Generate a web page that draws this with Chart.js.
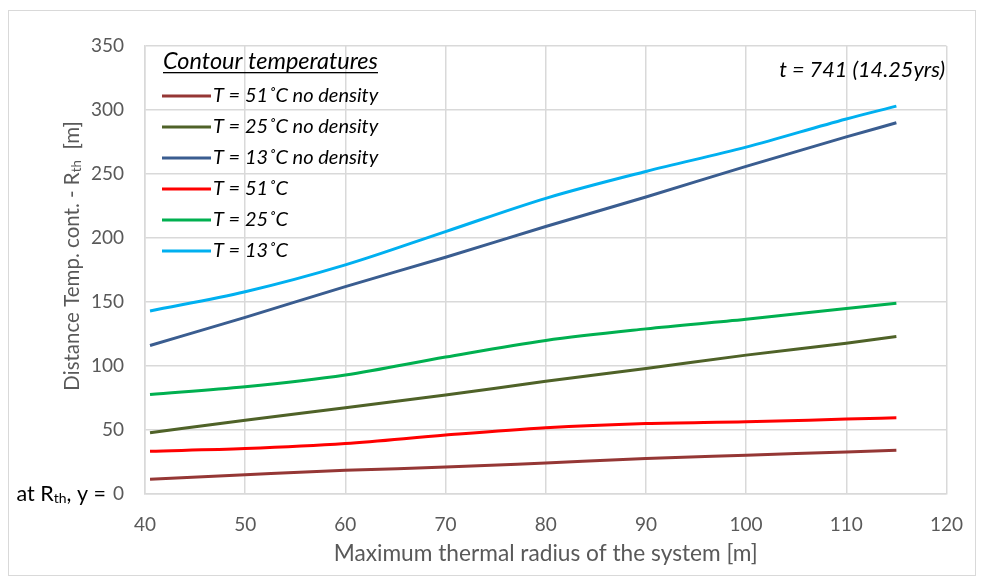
<!DOCTYPE html>
<html>
<head>
<meta charset="utf-8">
<script src="https://cdn.jsdelivr.net/npm/chart.js@4"></script>
<style>
  html, body { margin: 0; padding: 0; background: #fff; }
  #wrap { position: relative; width: 982px; height: 579px; }
  #frame { position: absolute; left: 8px; top: 10px; width: 966px; height: 564px; border: 1px solid #d9d9d9; pointer-events: none; }
</style>
</head>
<body>
<div id="wrap">
  <canvas id="chart" width="982" height="579"></canvas>
  <div id="frame"></div>
</div>
<script>
// Data
const radius = [40.5, 50, 60, 70, 80, 90, 100, 110, 115];
const t51NoDensity = [11.5, 15, 18.5, 21, 24.3, 27.7, 30.3, 32.9, 34.2];
const t25NoDensity = [47.8, 57.7, 67.3, 77.3, 88, 98, 108.5, 117.7, 123];
const t13NoDensity = [116, 138, 162, 185, 209, 232, 256, 279, 290];
const t51 = [33.4, 35.5, 39.4, 46, 51.7, 55, 56.4, 58.5, 59.5];
const t25 = [77.8, 83.8, 93, 107, 120, 129, 136.5, 145, 149];
const t13 = [143, 158, 179, 205, 231, 252, 271, 293, 303];

const seriesLabels = [
  "T = 51˚C no density",
  "T = 25˚C no density",
  "T = 13˚C no density",
  "T = 51˚C",
  "T = 25˚C",
  "T = 13˚C",
];
const seriesColors = ["#953735", "#4f6228", "#3a5d90", "#ff0000", "#00b050", "#00b0f0"];
const seriesValues = [t51NoDensity, t25NoDensity, t13NoDensity, t51, t25, t13];

const legendTitle = "Contour temperatures";
const timeLabel = "t = 741 (14.25yrs)";
const xTitle = "Maximum thermal radius of the system [m]";

const FONT = "Lato, 'Open Sans', sans-serif";
const GRAY = "#595959";
const GRID = "#d9d9d9";

function toPoints(values) {
  return values.map((v, i) => ({ x: radius[i], y: v }));
}

// draw text made of [text, isSub] parts, starting at x (left aligned)
function drawParts(ctx, parts, x, y, size) {
  let cx = x;
  parts.forEach(([txt, sub]) => {
    const s = sub ? size * 0.65 : size;
    ctx.font = s + "px " + FONT;
    ctx.fillText(txt, cx, sub ? y + size * 0.22 : y);
    cx += ctx.measureText(txt).width;
  });
  return cx - x;
}
function measureParts(ctx, parts, size) {
  let w = 0;
  parts.forEach(([txt, sub]) => {
    ctx.font = (sub ? size * 0.65 : size) + "px " + FONT;
    w += ctx.measureText(txt).width;
  });
  return w;
}

const extrasPlugin = {
  id: "extras",
  afterDraw(chart) {
    const ctx = chart.ctx;
    const area = chart.chartArea;
    const yScale = chart.scales.y;
    ctx.save();

    // legend inside the plot
    ctx.fillStyle = "#000";
    ctx.textBaseline = "middle";
    ctx.font = "italic 23.5px " + FONT;
    const lx = 162, ly = 61;
    ctx.fillText(legendTitle, lx + 1, ly);
    const tw = ctx.measureText(legendTitle).width;
    ctx.fillRect(lx + 1, ly + 11, tw, 1.3);

    chart.data.datasets.forEach((ds, i) => {
      const y = 96 + i * 31;
      ctx.strokeStyle = ds.borderColor;
      ctx.lineWidth = 3;
      ctx.beginPath();
      ctx.moveTo(lx, y);
      ctx.lineTo(lx + 49, y);
      ctx.stroke();
      ctx.fillStyle = "#000";
      ctx.font = "italic 20px " + FONT;
      ctx.fillText(ds.label, lx + 51, y);
    });

    // time label, top right
    ctx.font = "italic 21.7px " + FONT;
    ctx.textAlign = "right";
    ctx.fillText(timeLabel, 945, 70);
    ctx.textAlign = "left";

    // zero tick replacement: "at Rth, y = 0"
    ctx.textBaseline = "middle";
    const zeroParts = [["at R", false], ["th", true], [", y = 0", false]];
    const zw = measureParts(ctx, zeroParts, 21.5);
    ctx.fillStyle = "#000";
    drawParts(ctx, [["at R", false], ["th", true], [", y = ", false]], area.left - 21 - zw, yScale.getPixelForValue(0), 21.5);
    ctx.fillStyle = GRAY;
    ctx.font = "19px " + FONT;
    ctx.textAlign = "right";
    ctx.fillText("0", area.left - 21, yScale.getPixelForValue(0));
    ctx.textAlign = "left";

    // y axis title with subscript
    const titleParts = [["Distance Temp. cont. - R", false], ["th", true], ["  [m]", false]];
    const w = measureParts(ctx, titleParts, 20.5);
    ctx.translate(72, 256);
    ctx.rotate(-Math.PI / 2);
    ctx.fillStyle = GRAY;
    drawParts(ctx, titleParts, -w / 2, 0, 20.5);

    ctx.restore();
  },
};

const datasets = seriesValues.map((vals, i) => ({
  label: seriesLabels[i],
  data: toPoints(vals),
  borderColor: seriesColors[i],
  backgroundColor: seriesColors[i],
  borderWidth: 3,
  pointRadius: 0,
  showLine: true,
  fill: false,
  cubicInterpolationMode: "monotone",
}));

new Chart(document.getElementById("chart"), {
  type: "scatter",
  data: { datasets },
  options: {
    responsive: false,
    animation: false,
    layout: { padding: { left: 0, right: 32, top: 46, bottom: 0 } },
    plugins: {
      legend: { display: false },
      tooltip: { enabled: false },
    },
    scales: {
      x: {
        type: "linear",
        min: 40,
        max: 120,
        ticks: {
          stepSize: 10,
          padding: 19,
          color: GRAY,
          font: { family: FONT, size: 19 },
        },
        grid: { color: GRID, lineWidth: 1.5, drawTicks: false },
        border: { color: GRID, width: 1.5 },
        title: {
          display: true,
          text: xTitle,
          color: GRAY,
          font: { family: FONT, size: 22.7 },
          padding: { top: 6, bottom: 12 },
        },
        afterFit(scale) { scale.height = 85; },
      },
      y: {
        min: 0,
        max: 350,
        ticks: {
          stepSize: 50,
          padding: 21,
          color: GRAY,
          font: { family: FONT, size: 19 },
          callback: (v) => (v === 0 ? "" : v),
        },
        grid: { color: GRID, lineWidth: 1.5, drawTicks: false },
        border: { color: GRID, width: 1.5 },
        afterFit(scale) { scale.width = 145; },
      },
    },
  },
  plugins: [extrasPlugin],
});
</script>
</body>
</html>
